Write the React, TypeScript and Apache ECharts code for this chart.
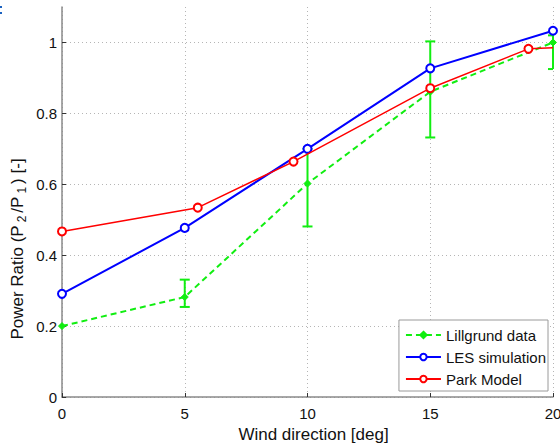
import React, { useEffect, useRef } from "react";
import * as echarts from "echarts";

const xTicks = [0, 5, 10, 15, 20];
const lillgrundX = [0, 5, 10, 15, 20];
const lillgrundY = [0.2, 0.282, 0.602, 0.861, 1.0];
const lillgrundLow = [null, 0.254, 0.481, 0.732, 0.925];
const lillgrundHigh = [null, 0.331, 0.7, 1.003, 1.02];
const lesX = [0, 5, 10, 15, 20];
const lesY = [0.291, 0.477, 0.7, 0.927, 1.033];
const parkX = [0, 5.53, 9.43, 15, 19, 20];
const parkY = [0.467, 0.534, 0.664, 0.871, 0.982, 0.985];
const parkMarker = [true, true, true, true, true, false];
const seriesNames = ["Lillgrund data", "LES simulation", "Park Model"];

const FONT = "'Liberation Sans', Arial, Helvetica, sans-serif";
const GREEN = "#11ee11";
const BLUE = "#0000ff";
const RED = "#ff0000";

export default function App() {
  const ref = useRef<HTMLDivElement>(null);
  useEffect(() => {
    document.body.style.margin = "0";
    const chart = echarts.init(ref.current!, null, { renderer: "svg" });
    const errData = lillgrundX
      .map((x, i) => [x, lillgrundLow[i], lillgrundHigh[i]])
      .filter((d) => d[1] !== null);
    const option: any = {
      animation: false,
      backgroundColor: "#ffffff",
      grid: { left: 62, right: 7, top: 7, bottom: 46, outerBoundsMode: "none", containLabel: false },
      xAxis: {
        type: "value",
        min: 0,
        max: 20,
        interval: 5,
        name: "Wind direction [deg]",
        nameLocation: "middle",
        nameGap: 26,
        nameTextStyle: { fontFamily: FONT, fontSize: 17, color: "#111", padding: [0, 0, 0, 12] },
        axisLine: { show: true, lineStyle: { color: "#8a8a8a", width: 1.5 } },
        axisTick: { show: true, inside: true, length: 4, lineStyle: { color: "#333" } },
        axisLabel: {
          fontFamily: FONT,
          fontSize: 15,
          color: "#111",
          margin: 9,
          formatter: (v: number) => (xTicks.includes(v) ? String(v) : ""),
        },
        splitLine: { show: true, lineStyle: { color: "#b5b5b5", type: [1, 3], width: 1 } },
      },
      yAxis: {
        type: "value",
        min: 0,
        max: 1.1,
        interval: 0.2,
        axisLine: { show: true, lineStyle: { color: "#8a8a8a", width: 1.5 } },
        axisTick: { show: true, inside: true, length: 4, lineStyle: { color: "#333" } },
        axisLabel: {
          fontFamily: FONT,
          fontSize: 15,
          color: "#111",
          margin: 5,
          showMaxLabel: false,
          formatter: (v: number) => (v > 1.05 ? "" : String(Math.round(v * 10) / 10)),
        },
        splitLine: {
          show: true,
          lineStyle: {
            color: ["#b5b5b5", "#b5b5b5", "#b5b5b5", "#b5b5b5", "#b5b5b5", "#b5b5b5", "rgba(0,0,0,0)"],
            type: [1, 3],
            width: 1,
          },
        },
      },
      legend: {
        orient: "vertical",
        right: 12,
        bottom: 52,
        backgroundColor: "#ffffff",
        borderColor: "#9a9a9a",
        borderWidth: 1,
        borderRadius: 0,
        padding: [7, 2, 4, 6],
        itemWidth: 35,
        itemHeight: 8,
        itemGap: 6,
        textStyle: { fontFamily: FONT, fontSize: 15, color: "#111", lineHeight: 16 },
        data: seriesNames,
      },
      series: [
        {
          type: "custom",
          name: "err",
          z: 1,
          data: errData,
          encode: { x: 0, y: [1, 2] },
          renderItem: (params: any, api: any) => {
            const x = api.value(0);
            const lo = api.coord([x, api.value(1)]);
            const hi = api.coord([x, api.value(2)]);
            const right = api.coord([20, 0])[0];
            const half = 5;
            const capL = lo[0] - half;
            const capR = Math.min(right, lo[0] + half);
            const st = { stroke: GREEN, lineWidth: 2 };
            return {
              type: "group",
              children: [
                { type: "line", shape: { x1: lo[0], y1: lo[1], x2: hi[0], y2: hi[1] }, style: st },
                { type: "line", shape: { x1: capL, y1: lo[1], x2: capR, y2: lo[1] }, style: st },
                { type: "line", shape: { x1: capL, y1: hi[1], x2: capR, y2: hi[1] }, style: st },
              ],
            };
          },
        },
        {
          type: "line",
          name: seriesNames[0],
          z: 2,
          data: lillgrundX.map((x, i) => [x, lillgrundY[i]]),
          symbol: "diamond",
          symbolSize: 7,
          showAllSymbol: true,
          itemStyle: { color: GREEN, borderColor: GREEN, borderWidth: 1 },
          lineStyle: { color: GREEN, width: 2, type: [6, 4] },
        },
        {
          type: "line",
          name: seriesNames[1],
          z: 3,
          data: lesX.map((x, i) => [x, lesY[i]]),
          symbol: "emptyCircle",
          symbolSize: 8,
          showAllSymbol: true,
          itemStyle: { color: BLUE, borderColor: BLUE, borderWidth: 1.5 },
          lineStyle: { color: BLUE, width: 2 },
        },
        {
          type: "line",
          name: seriesNames[2],
          z: 4,
          data: parkX.map((x, i) => ({
            value: [x, parkY[i]],
            symbolSize: parkMarker[i] ? 8 : 0,
          })),
          symbol: "emptyCircle",
          symbolSize: 8,
          showAllSymbol: true,
          itemStyle: { color: RED, borderColor: RED, borderWidth: 1.5 },
          lineStyle: { color: RED, width: 1.5 },
        },
      ],
      graphic: [
        {
          type: "text",
          x: 17,
          y: 249,
          rotation: Math.PI / 2,
          style: {
            text: "{m|Power Ratio (P}{s|2}{m|/P}{s|1}{m|) [-]}",
            align: "center",
            verticalAlign: "middle",
            rich: {
              m: { fontFamily: FONT, fontSize: 17, fill: "#111", lineHeight: 22, verticalAlign: "middle" },
              s: { fontFamily: FONT, fontSize: 12, fill: "#111", lineHeight: 22, verticalAlign: "bottom", padding: [0, 3, 0, 3] },
            },
          },
        },
        { type: "rect", shape: { x: 0, y: 6, width: 2, height: 2 }, style: { fill: "#1a62c0" } },
        { type: "rect", shape: { x: 0, y: 12, width: 2, height: 2 }, style: { fill: "#1a62c0" } },
      ],
    };
    chart.setOption(option);
    return () => chart.dispose();
  }, []);
  return <div ref={ref} style={{ width: 560, height: 443 }} />;
}
